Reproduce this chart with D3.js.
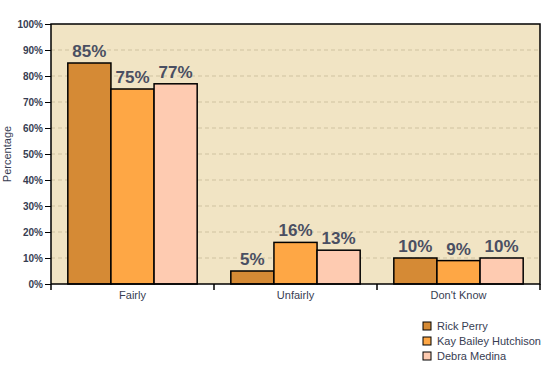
<!DOCTYPE html>
<html><head><meta charset="utf-8">
<script src="https://cdn.jsdelivr.net/npm/d3@7"></script>
<style>body{margin:0;background:#fff;}svg{display:block;}</style>
</head><body>
<svg id="c" width="545" height="366"></svg>
<script>
const categories = ["Fairly", "Unfairly", "Don't Know"];
const seriesNames = ["Rick Perry", "Kay Bailey Hutchison", "Debra Medina"];
const rickPerry = [85, 5, 10];
const kayBaileyHutchison = [75, 16, 9];
const debraMedina = [77, 13, 10];
const yTicks = [0,10,20,30,40,50,60,70,80,90,100];
const colors = ["#D58A35", "#FEA745", "#FECBB1"];
const series = [rickPerry, kayBaileyHutchison, debraMedina];

const svg = d3.select("#c");
const m = {l:51, r:5, t:24, b:82};
const W = 545 - m.l - m.r, H = 366 - m.t - m.b;
const g = svg.append("g").attr("transform", `translate(${m.l},${m.t})`);
const font = "'Liberation Sans', Arial, sans-serif";
const txt = "#373d52";

const x0 = d3.scaleBand().domain(categories).range([0, W]).paddingInner(0).paddingOuter(0);
const x1 = d3.scaleBand().domain(seriesNames).range([0, x0.bandwidth()]).paddingInner(0).paddingOuter(0.39);
const y = d3.scaleLinear().domain([0,100]).range([H, 0]);

g.append("rect").attr("width", W).attr("height", H).attr("fill", "#F1E4C4");

g.selectAll(".grid").data(yTicks.filter(d => d>0 && d<100)).enter().append("line")
  .attr("x1", 0).attr("x2", W).attr("y1", d => y(d)).attr("y2", d => y(d))
  .attr("stroke", "#cfc2a0").attr("stroke-dasharray", "4,3").attr("stroke-width", 1);

const grp = g.selectAll(".grp").data(categories).enter().append("g")
  .attr("transform", d => `translate(${x0(d)},0)`);
grp.selectAll("rect").data((d,i) => series.map((s,j) => ({name: seriesNames[j], v: s[i], j}))).enter().append("rect")
  .attr("x", d => x1(d.name)).attr("width", x1.bandwidth())
  .attr("y", d => y(d.v)).attr("height", d => H - y(d.v))
  .attr("fill", d => colors[d.j]).attr("stroke", "#000").attr("stroke-width", 1.5);
grp.selectAll("text").data((d,i) => series.map((s,j) => ({name: seriesNames[j], v: s[i], j}))).enter().append("text")
  .attr("x", d => x1(d.name) + x1.bandwidth()/2).attr("y", d => y(d.v) - 6)
  .attr("text-anchor", "middle").attr("font-family", font).attr("font-weight", "bold")
  .attr("font-size", "17px").attr("fill", "#4a4f62").text(d => d.v + "%");

// frame
g.append("rect").attr("width", W).attr("height", H).attr("fill", "none").attr("stroke", "#000").attr("stroke-width", 1.5);

const ya = d3.axisLeft(y).tickValues(yTicks).tickSize(6).tickPadding(2).tickFormat(d => d + "%");
const yg = g.append("g").call(ya);
yg.select(".domain").remove();
yg.selectAll("line").attr("stroke", "#000").attr("stroke-width", 1);
yg.selectAll("text").attr("font-family", font).attr("font-weight", "bold").attr("font-size", "10px").attr("fill", txt);

// bottom ticks at band boundaries
g.selectAll(".bt").data([0,1,2,3]).enter().append("line")
  .attr("x1", d => d*x0.step()).attr("x2", d => d*x0.step()).attr("y1", H).attr("y2", H+6)
  .attr("stroke", "#000").attr("stroke-width", 1.5);
g.selectAll(".cl").data(categories).enter().append("text")
  .attr("x", d => x0(d) + x0.bandwidth()/2).attr("y", H + 15)
  .attr("text-anchor", "middle").attr("font-family", font).attr("font-size", "11px").attr("fill", txt).text(d => d);

svg.append("text").attr("transform", `translate(11,${m.t + H/2}) rotate(-90)`)
  .attr("text-anchor", "middle").attr("font-family", font).attr("font-size", "11px").attr("fill", txt).text("Percentage");

const lg = svg.append("g").attr("transform", "translate(423,322)");
const li = lg.selectAll("g").data(seriesNames).enter().append("g").attr("transform", (d,i) => `translate(0,${i*15})`);
li.append("rect").attr("width", 8).attr("height", 8).attr("fill", (d,i) => colors[i]).attr("stroke", "#000").attr("stroke-width", 1);
li.append("text").attr("x", 14).attr("y", 8).attr("font-family", font).attr("font-size", "11px").attr("fill", txt).text(d => d);
</script>
</body></html>
